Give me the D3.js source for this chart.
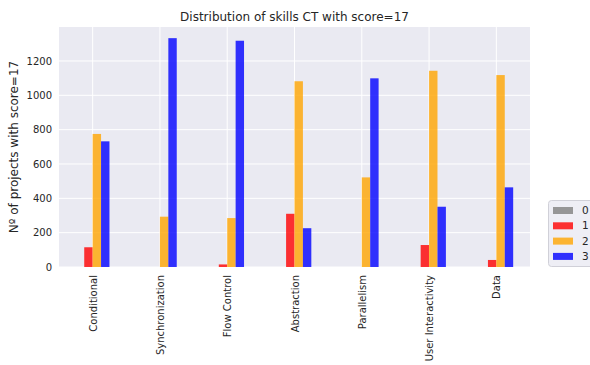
<!DOCTYPE html>
<html><head><meta charset="utf-8">
<script src="https://cdn.jsdelivr.net/npm/d3@7"></script>
<style>body{margin:0;background:#fff;} text{font-family:"DejaVu Sans",sans-serif;}</style>
</head><body><svg id="c" width="590" height="365"></svg>
<script>
const categories = ["Conditional","Synchronization","Flow Control","Abstraction","Parallelism","User Interactivity","Data"];
const seriesNames = ["0","1","2","3"];
const score0 = [0,0,0,0,0,0,0];
const score1 = [115,0,15,310,0,128,41];
const score2 = [775,293,285,1082,522,1143,1118];
const score3 = [732,1333,1318,226,1099,351,464];
const yTicks = [0,200,400,600,800,1000,1200];
const colors = ["#808080","#ff0000","#ffa500","#0000ff"];
const series = [score0,score1,score2,score3];

const svg = d3.select("#c");
const L=59, R=530, T=27, B=267;
const x = d3.scaleLinear().domain([-0.5, categories.length-0.5]).range([L,R]);
const y = d3.scaleLinear().domain([0,1398]).range([B,T]);

svg.append("rect").attr("x",L).attr("y",T).attr("width",R-L).attr("height",B-T).attr("fill","#eaeaf2");
svg.selectAll(".gy").data(yTicks).enter().append("line")
  .attr("x1",L).attr("x2",R).attr("y1",d=>y(d)).attr("y2",d=>y(d)).attr("stroke","#fff").attr("stroke-width",1);
svg.selectAll(".gx").data(categories).enter().append("line")
  .attr("x1",(d,i)=>x(i)).attr("x2",(d,i)=>x(i)).attr("y1",T).attr("y2",B).attr("stroke","#fff").attr("stroke-width",1);

const bw = 0.125;
series.forEach((vals,s)=>{
  const off = (s-1.5)*bw;
  svg.append("g").selectAll("rect").data(vals).enter().append("rect")
    .attr("x",(d,i)=>x(i+off-bw/2)).attr("width",x(bw)-x(0))
    .attr("y",d=>y(d)).attr("height",d=>y(0)-y(d))
    .attr("fill",colors[s]).attr("fill-opacity",0.8);
});

const yAxis = d3.axisLeft(y).tickValues(yTicks).tickFormat(d3.format("d")).tickSize(0).tickPadding(7);
const ga = svg.append("g").attr("transform",`translate(${L},0)`).call(yAxis);
ga.select(".domain").remove();
ga.selectAll("text").attr("font-size",10).attr("fill","#262626").style("font-family","DejaVu Sans");

const xAxis = d3.axisBottom(x).tickValues(d3.range(categories.length)).tickFormat(i=>categories[i]).tickSize(0);
const gx = svg.append("g").attr("transform",`translate(0,${B})`).call(xAxis);
gx.select(".domain").remove();
gx.selectAll("text").attr("font-size",10).attr("fill","#262626").style("font-family","DejaVu Sans")
  .attr("transform","rotate(-90)").attr("text-anchor","end").attr("x",-8).attr("y",0).attr("dy","0.35em");

svg.append("text").attr("x",(L+R)/2).attr("y",21).attr("text-anchor","middle")
  .attr("font-size",12).attr("fill","#262626").text("Distribution of skills CT with score=17");
svg.append("text").attr("transform",`translate(18,${(T+B)/2}) rotate(-90)`).attr("text-anchor","middle")
  .attr("font-size",12).attr("fill","#262626").text("Nº of projects with score=17");

const lg = svg.append("g").attr("transform","translate(548,200)");
lg.append("rect").attr("x",0.5).attr("y",0.5).attr("width",60).attr("height",66).attr("rx",3)
  .attr("fill","#eaeaf2").attr("fill-opacity",0.8).attr("stroke","#d0d0d8");
seriesNames.forEach((n,i)=>{
  lg.append("rect").attr("x",5).attr("y",7+i*15.3).attr("width",20).attr("height",7)
    .attr("fill",colors[i]).attr("fill-opacity",0.8);
  lg.append("text").attr("x",34).attr("y",10.5+i*15.3).attr("dy","0.35em").attr("font-size",10.5).attr("fill","#262626").text(n);
});
</script></body></html>
